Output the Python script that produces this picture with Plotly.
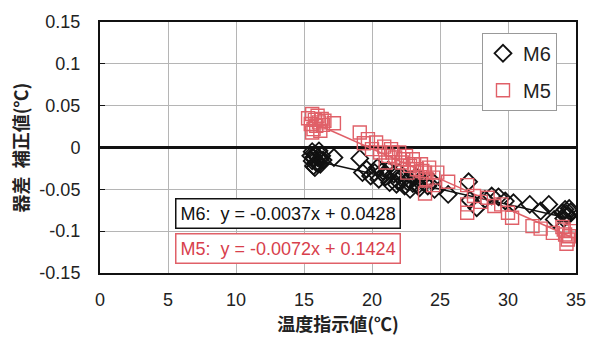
import plotly.graph_objects as go

# ---- data ----
m6_x = [15.5, 15.6, 15.7, 15.8, 15.9, 16.0, 16.1, 16.2, 16.3, 16.4, 15.6, 15.8, 16.0, 16.2, 15.7, 17.2,
        19.1, 19.3, 19.6, 19.9, 20.2, 20.5, 20.8, 21.0, 21.3, 21.6, 21.9, 22.1, 22.4, 22.7, 23.0, 23.2,
        23.5, 23.8, 24.1, 24.4, 20.4, 21.2, 22.0, 22.8, 23.6, 24.6, 21.8, 22.6, 23.4, 20.9,
        25.6, 27.1, 27.2, 27.7, 28.3, 28.8, 29.3, 29.8, 30.4, 31.6, 32.4, 33.0, 33.4,
        34.0, 34.2, 34.4, 34.6, 34.1, 34.5, 34.3]
m6_y = [-0.010, -0.016, -0.022, -0.008, -0.018, -0.012, -0.004, -0.020, -0.010, -0.015, -0.005, -0.024,
        -0.019, -0.014, -0.012, -0.012,
        -0.013, -0.030, -0.026, -0.034, -0.030, -0.038, -0.028, -0.035, -0.042, -0.032, -0.040, -0.036,
        -0.046, -0.038, -0.043, -0.035, -0.048, -0.042, -0.046, -0.040, -0.024, -0.027, -0.030, -0.050,
        -0.038, -0.050, -0.044, -0.041, -0.045, -0.033,
        -0.056, -0.041, -0.063, -0.072, -0.062, -0.058, -0.059, -0.064, -0.066, -0.068, -0.076, -0.068,
        -0.086, -0.078, -0.074, -0.082, -0.077, -0.085, -0.073, -0.079]

m5_x = [15.3, 15.5, 15.6, 15.7, 15.8, 15.9, 16.0, 16.1, 16.2, 16.3, 16.4, 15.6, 16.5, 17.2,
        19.1, 19.4, 19.7, 20.0, 20.3, 20.6, 20.9, 21.2, 21.4, 21.7, 22.0, 22.2, 22.5, 22.8, 23.0, 23.3,
        23.6, 23.9, 24.2, 24.5, 24.8, 21.0, 22.6, 23.9, 25.6, 24.5, 21.5, 22.3, 23.1, 23.7, 24.0,
        27.0, 27.0, 27.0, 27.5, 28.0, 28.5, 29.0, 29.5, 30.0, 30.3, 31.8, 32.4, 33.3,
        34.0, 34.2, 34.4, 34.6, 34.3, 34.5, 34.1]
m5_y = [0.035, 0.028, 0.040, 0.022, 0.033, 0.026, 0.038, 0.030, 0.020, 0.034, 0.027, 0.018, 0.032, 0.029,
        0.018, 0.005, 0.010, -0.002, 0.006, -0.006, 0.001, -0.010, -0.002, -0.012, -0.006, -0.018, -0.010,
        -0.022, -0.014, -0.026, -0.020, -0.030, -0.024, -0.036, -0.030, -0.018, -0.030, -0.055, -0.041,
        -0.045, -0.006, -0.014, -0.020, -0.028, -0.038,
        -0.045, -0.068, -0.078, -0.058, -0.065, -0.060, -0.070, -0.068, -0.078, -0.084, -0.094, -0.097,
        -0.102, -0.095, -0.104, -0.110, -0.100, -0.115, -0.106, -0.098]

series_names = ["M6", "M5"]
slopes = [-0.0037, -0.0072]
intercepts = [0.0428, 0.1424]
equation_labels = ["M6:  y = -0.0037x + 0.0428", "M5:  y = -0.0072x + 0.1424"]
x_ticks = [0, 5, 10, 15, 20, 25, 30, 35]
y_ticks = [-0.15, -0.1, -0.05, 0, 0.05, 0.1, 0.15]
y_tick_text = ["-0.15", "-0.1", "-0.05", "0", "0.05", "0.1", "0.15"]

BLACK = "#111111"
RED = "#e06068"
RED_TEXT = "#d8404c"
FONT = "Liberation Sans"
CJK = "Noto Sans CJK JP"

fig = go.Figure()

# trend lines
for xs, a, b, col in [(m6_x, slopes[0], intercepts[0], BLACK), (m5_x, slopes[1], intercepts[1], RED)]:
    x0, x1 = min(xs), max(xs)
    fig.add_trace(go.Scatter(x=[x0, x1], y=[a * x0 + b, a * x1 + b], mode="lines",
                             line=dict(color=col, width=1.5), showlegend=False, hoverinfo="skip"))

fig.add_trace(go.Scatter(x=m6_x, y=m6_y, mode="markers", name=series_names[0], legendgroup="a",
                         marker=dict(symbol="diamond-open", size=13, color=BLACK, line=dict(width=1.8, color=BLACK))))
fig.add_trace(go.Scatter(x=m5_x, y=m5_y, mode="markers", name=series_names[1], legendgroup="b",
                         marker=dict(symbol="square-open", size=13, color=RED, line=dict(width=1.4, color=RED))))

fig.add_annotation(x=13.8, y=-0.0785, xref="x", yref="y", text=equation_labels[0], showarrow=False,
                   font=dict(family=FONT, size=18, color=BLACK), bordercolor=BLACK, borderwidth=1.5,
                   borderpad=4, bgcolor="white")
fig.add_annotation(x=13.8, y=-0.1207, xref="x", yref="y", text=equation_labels[1], showarrow=False,
                   font=dict(family=FONT, size=18, color=RED_TEXT), bordercolor=RED, borderwidth=1.5,
                   borderpad=4, bgcolor="white")

fig.update_layout(
    width=600, height=351,
    margin=dict(l=100, r=24, t=17, b=78),
    paper_bgcolor="white", plot_bgcolor="white",
    font=dict(family=FONT, size=18, color="#222222"),
    legend=dict(x=0.8025, y=0.957, xanchor="left", yanchor="top", bgcolor="white",
                bordercolor="#999999", borderwidth=1, font=dict(family=FONT, size=20, color="#222222"),
                tracegroupgap=8, itemwidth=30),
    xaxis=dict(range=[0, 35], tickvals=x_ticks, showgrid=True, gridcolor="#b5b5b5", gridwidth=1.2,
               showline=True, mirror=True, linecolor=BLACK, linewidth=2, zeroline=False,
               ticks="", ticklabelstandoff=9, tickfont=dict(family=FONT, size=18, color="#222222"),
               title=dict(text="<b>温度指示値(℃)</b>", font=dict(family=CJK, size=18, color="#222222"), standoff=10)),
    yaxis=dict(range=[-0.15, 0.15], tickvals=y_ticks, ticktext=y_tick_text, showgrid=True,
               gridcolor="#b5b5b5", gridwidth=1.2, showline=True, mirror=True, linecolor=BLACK, linewidth=2,
               zeroline=True, zerolinecolor=BLACK, zerolinewidth=3,
               ticks="inside", ticklen=5, tickcolor=BLACK, ticklabelstandoff=14,
               tickfont=dict(family=FONT, size=18, color="#222222"),
               title=dict(text="<b>器差  補正値(℃)</b>", font=dict(family=CJK, size=18, color="#222222"), standoff=6)),
)

fig.write_html("out.html")
